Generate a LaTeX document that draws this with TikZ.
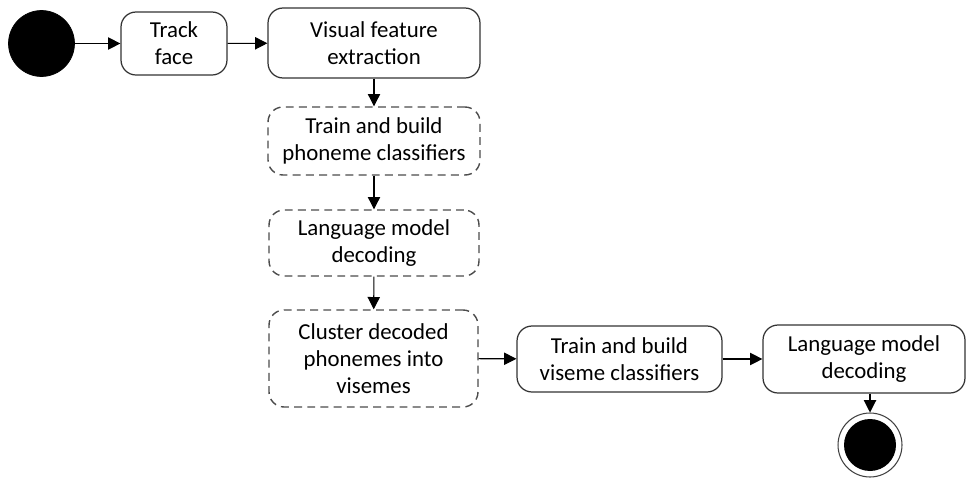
\documentclass[tikz,border=0pt]{standalone}
\usepackage{fontspec}
\setmainfont{Carlito}
\usetikzlibrary{positioning, arrows.meta, shapes.geometric}

\begin{document}
\begin{tikzpicture}[x=0.02cm, y=-0.02cm, >={Triangle[length=7pt, width=7pt]},
    action/.style={draw=black!80, line width=0.7pt, rounded corners=0.3cm, align=center,
        font=\fontsize{13}{15.5}\selectfont, inner sep=2pt},
    pending/.style={action, draw=black!70, line width=0.8pt, dash pattern=on 4.5pt off 3pt},
    flow/.style={->, line width=0.6pt}]
   \useasboundingbox (0,0) rectangle (967,477);

   % Initial state
   \node[circle, draw, fill=black, minimum size=1.32cm, inner sep=0pt] (start) at (41.5,43.5) {};

   % Top row
   \node[action, minimum width=2.12cm, minimum height=1.26cm] (track) at (174,43.5) {Track\\face};
   \node[action, minimum width=4.24cm, minimum height=1.4cm] (visual) at (374,43) {Visual feature\\extraction};

   % Dashed column
   \node[pending, minimum width=4.24cm, minimum height=1.36cm] (phon) at (374,141) {Train and build\\phoneme classifiers};
   \node[pending, minimum width=4.2cm, minimum height=1.32cm] (lm1) at (374,243) {Language model\\decoding};
   \node[pending, minimum width=4.18cm, minimum height=1.94cm] (cluster) at (373.5,358.5) {Cluster decoded\\phonemes into\\visemes};

   % Bottom row
   \node[action, minimum width=4.1cm, minimum height=1.32cm] (viseme) at (619.5,359) {Train and build\\viseme classifiers};
   \node[action, minimum width=4.04cm, minimum height=1.36cm] (lm2) at (864,359) {Language model\\decoding};

   % Final state
   \node[circle, draw=black!75, line width=0.6pt, minimum size=1.28cm, inner sep=0pt] (stop) at (870,445) {};
   \node[circle, fill=black, minimum size=1.04cm, inner sep=0pt] (stopdot) at (stop) {};

   % Transitions
   \draw[flow] (start) -- (track);
   \draw[flow] (track) -- (visual);
   \draw[flow] (visual) -- (phon);
   \draw[flow] (phon) -- (lm1);
   \draw[flow] (lm1) -- (cluster);
   \draw[flow] (cluster) -- (viseme);
   \draw[flow] (viseme) -- (lm2);
   \draw[flow] (lm2.south -| stop) -- (stop);
\end{tikzpicture}
\end{document}
